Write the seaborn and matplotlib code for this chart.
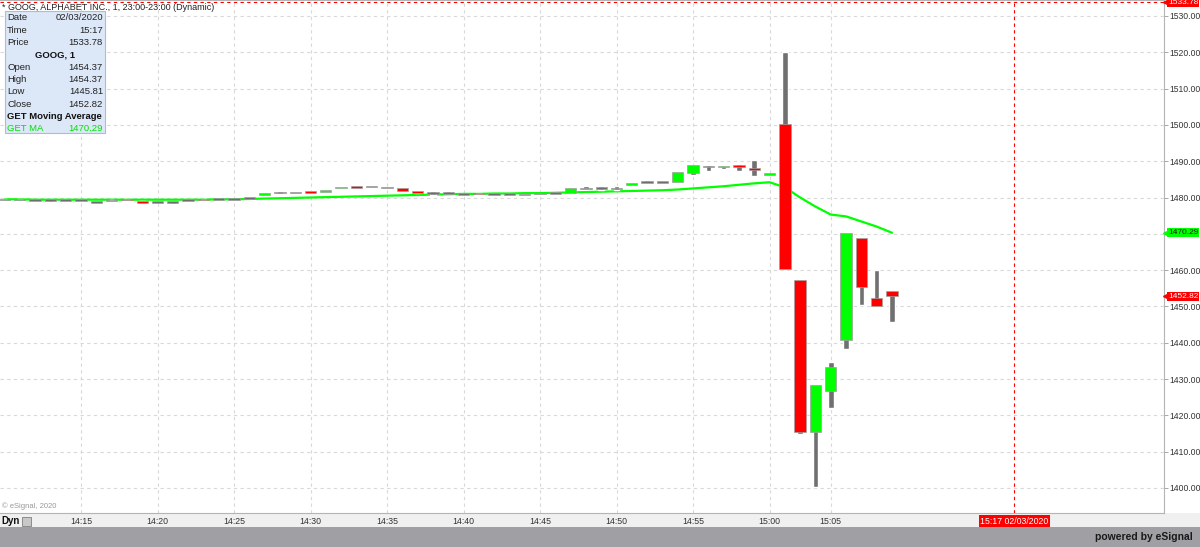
import matplotlib
matplotlib.use('Agg')
import numpy as np
import pandas as pd
import matplotlib.pyplot as plt
import seaborn as sns
from matplotlib.patches import Rectangle
from matplotlib import transforms

# 绘图风格 (字体要放在 set_style 之后)
sns.set_style('white')
plt.rcParams['font.family'] = ['Liberation Sans', 'DejaVu Sans']

# ---- 数据: GOOG 1分钟K线 ----
times = ['14:10', '14:11', '14:12', '14:13', '14:14', '14:15', '14:16', '14:17', '14:18', '14:19',
         '14:20', '14:21', '14:22', '14:23', '14:24', '14:25', '14:26', '14:27', '14:28', '14:29',
         '14:30', '14:31', '14:32', '14:33', '14:34', '14:35', '14:36', '14:37', '14:38', '14:39',
         '14:40', '14:41', '14:42', '14:43', '14:44', '14:45', '14:46', '14:47', '14:48', '14:49',
         '14:50', '14:51', '14:52', '14:53', '14:54', '14:55', '14:56', '14:57', '14:58', '14:59',
         '15:00', '15:01', '15:02', '15:04', '15:05', '15:06', '15:07', '15:08', '15:09']
opens = [1479.5, 1479.5, 1479.3, 1479.3, 1479.3, 1479.3, 1478.8, 1479.2, 1479.7, 1479.0,
         1478.8, 1478.8, 1479.3, 1479.7, 1479.6, 1479.6, 1479.8, 1480.8, 1481.4, 1481.4,
         1481.8, 1481.4, 1482.5, 1483.2, 1483.0, 1482.8, 1482.5, 1481.6, 1481.2, 1481.2,
         1481.0, 1481.2, 1481.0, 1481.0, 1480.8, 1481.1, 1481.3, 1481.3, 1482.5, 1482.6,
         1482.5, 1483.4, 1484.3, 1484.2, 1484.2, 1486.8, 1488.5, 1488.3, 1488.9, 1488.2,
         1486.4, 1500.2, 1457.4, 1415.5, 1426.7, 1440.7, 1468.9, 1452.4, 1454.37]
highs = [1479.5, 1479.5, 1479.3, 1479.3, 1479.3, 1479.3, 1478.8, 1479.2, 1479.7, 1479.0,
         1478.8, 1478.8, 1479.3, 1479.7, 1479.6, 1479.6, 1479.8, 1481.2, 1481.8, 1481.4,
         1481.8, 1482.2, 1483.0, 1483.2, 1483.0, 1482.8, 1482.5, 1481.6, 1481.9, 1481.9,
         1481.0, 1481.2, 1481.0, 1481.0, 1480.8, 1481.1, 1481.3, 1482.5, 1483.2, 1483.2,
         1483.2, 1484.0, 1484.9, 1484.2, 1487.1, 1489.0, 1489.0, 1488.8, 1489.1, 1490.3,
         1486.6, 1520.2, 1457.4, 1428.3, 1434.7, 1470.2, 1468.9, 1460.0, 1454.37]
lows = [1479.5, 1479.5, 1478.9, 1478.8, 1479.3, 1479.3, 1478.6, 1479.2, 1479.3, 1478.6,
        1478.5, 1478.3, 1479.3, 1479.2, 1479.6, 1479.6, 1479.8, 1480.8, 1481.1, 1481.4,
        1481.3, 1481.4, 1482.5, 1482.5, 1483.0, 1482.8, 1481.9, 1481.3, 1480.8, 1481.2,
        1481.0, 1481.0, 1481.0, 1481.0, 1480.5, 1481.1, 1481.3, 1481.3, 1482.3, 1482.0,
        1482.0, 1483.4, 1484.3, 1484.0, 1484.2, 1486.2, 1487.4, 1487.8, 1487.4, 1485.9,
        1486.4, 1460.4, 1414.8, 1400.3, 1421.9, 1438.2, 1450.4, 1450.2, 1445.81]
closes = [1479.5, 1479.5, 1479.3, 1479.3, 1479.3, 1479.3, 1478.8, 1479.2, 1479.3, 1478.6,
          1478.8, 1478.8, 1479.3, 1479.2, 1479.6, 1479.6, 1479.8, 1481.2, 1481.4, 1481.4,
          1481.3, 1482.2, 1483.0, 1482.7, 1483.0, 1482.8, 1481.9, 1481.3, 1481.2, 1481.2,
          1481.0, 1481.0, 1481.0, 1481.0, 1480.8, 1481.1, 1481.3, 1482.5, 1482.5, 1482.6,
          1482.5, 1484.0, 1484.3, 1484.2, 1487.1, 1489.0, 1488.5, 1488.8, 1488.5, 1487.6,
          1486.6, 1460.4, 1415.3, 1428.3, 1433.4, 1470.2, 1455.4, 1450.2, 1452.82]
# GET 移动平均线
ma = [1479.5, 1479.5, 1479.4, 1479.4, 1479.4, 1479.4, 1479.4, 1479.4, 1479.4, 1479.4,
      1479.4, 1479.4, 1479.4, 1479.4, 1479.5, 1479.5, 1479.6, 1479.7, 1479.8, 1479.9,
      1480.0, 1480.1, 1480.2, 1480.3, 1480.4, 1480.5, 1480.6, 1480.7, 1480.8, 1480.9,
      1481.0, 1481.0, 1481.1, 1481.1, 1481.2, 1481.2, 1481.3, 1481.4, 1481.5, 1481.6,
      1481.7, 1481.8, 1481.9, 1482.0, 1482.2, 1482.5, 1482.8, 1483.1, 1483.5, 1483.9,
      1484.2, 1482.8, 1480.0, 1477.5, 1475.3, 1474.8, 1473.4, 1472.0, 1470.29]

time_ticks = ['14:15', '14:20', '14:25', '14:30', '14:35', '14:40', '14:45', '14:50', '14:55', '15:00', '15:05']
price_ticks = [1400, 1410, 1420, 1430, 1440, 1450, 1460, 1470, 1480, 1490, 1500, 1510, 1520, 1530]
cursor_price = 1533.78
cursor_bar = 66          # 15:17 (最后一根K线之后 8 分钟)
last_close = 1452.82
last_ma = 1470.29

info_labels = ['Date', 'Time', 'Price', 'GOOG, 1', 'Open', 'High', 'Low', 'Close', 'GET Moving Average', 'GET MA']
info_values = ['02/03/2020', '15:17', '1533.78', '', '1454.37', '1454.37', '1445.81', '1452.82', '', '1470.29']

df = pd.DataFrame({'time': times, 'open': opens, 'high': highs, 'low': lows, 'close': closes, 'ma': ma})
df['pos'] = np.arange(len(df))

# ---- 画布 ----
W, H = 1200, 547
fig = plt.figure(figsize=(W / 100, H / 100), dpi=100, facecolor='white')
fx = lambda px: px / W
fy = lambda py: 1 - py / H

ax = fig.add_axes([0, fy(513), fx(1164), 513 / H])
ax.set_facecolor('white')
ax.set_xlim(-0.294, 75.78)
ax.set_ylim(1393.1, 1534.4)

# 网格与坐标轴
tick_pos = [times.index(t) for t in time_ticks]
ax.set_xticks(tick_pos)
ax.set_xticklabels(time_ticks)
ax.set_yticks(price_ticks)
# 1470 的刻度文字被均线价格标签盖住, 这里留空
ax.set_yticklabels(['' if v == 1470 else f'{v:.2f}' for v in price_ticks])
ax.grid(True, color='#d9d9d9', linestyle=(0, (3, 3)), linewidth=0.8, zorder=0)
ax.set_axisbelow(True)
ax.yaxis.tick_right()
ax.tick_params(axis='x', length=0, pad=3, labelsize=6.3, labelcolor='#333333')
ax.tick_params(axis='y', length=3, width=0.6, pad=1, labelsize=6.2, color='#999999', labelcolor='#333333')
for s in ax.spines.values():
    s.set_color('#b4b4b4')
    s.set_linewidth(0.8)
ax.spines['left'].set_visible(False)

# 移动平均线 (在K线后面)
sns.lineplot(x='pos', y='ma', data=df, color='#00ff00', linewidth=1.6, ax=ax, zorder=2)
ax.set_xlabel('')
ax.set_ylabel('')

# K线
up = df['close'] > df['open']
down = df['close'] < df['open']
body_col = np.where(up, '#00ff00', np.where(down, '#ff0000', '#6e6e6e'))
body_h = (df['close'] - df['open']).abs()
flat = body_h < 0.45
body_bot = np.minimum(df['open'], df['close']) - np.where(flat, (0.45 - body_h) / 2, 0)
body_h = np.maximum(body_h, 0.45)
ax.bar(df['pos'], df['high'] - df['low'], bottom=df['low'], width=0.36, color='#707070', zorder=3)
ax.bar(df['pos'], body_h, bottom=body_bot, width=0.74, color=body_col,
       edgecolor='#a0a0a0', linewidth=0.5, zorder=4)

# 光标线
ax.axhline(cursor_price, color='#ff0000', linestyle=(0, (3, 3)), linewidth=0.8, zorder=5)
ax.axvline(cursor_bar, color='#ff0000', linestyle=(0, (3, 3)), linewidth=0.8, zorder=5)

# 右侧价格标签
ytr = transforms.blended_transform_factory(ax.transAxes, ax.transData)
def price_tag(v, fc, tc):
    ax.plot([1.0 + 2 / 1164], [v], marker='<', markersize=4.5, color=fc, transform=ytr, clip_on=False, zorder=10)
    ax.text(1.0 + 4 / 1164, v, f'{v:.2f}', transform=ytr, ha='left', va='center', fontsize=6.0, color=tc,
            bbox=dict(boxstyle='square,pad=0.1', fc=fc, ec='none'), clip_on=False, zorder=11)

price_tag(cursor_price, '#ff0000', 'white')
price_tag(last_ma, '#00ff00', '#1a1a1a')
price_tag(last_close, '#ff0000', 'white')

# 底部时间标签
xtr = transforms.blended_transform_factory(ax.transData, ax.transAxes)
ax.text(cursor_bar, -8 / 513, '15:17 02/03/2020', transform=xtr, ha='center', va='center', fontsize=6.3,
        color='white', bbox=dict(boxstyle='square,pad=0.15', fc='#ff0000', ec='none'), clip_on=False, zorder=11)

# 底部条
fig.add_artist(Rectangle((0, fy(527)), 1, 14 / H, transform=fig.transFigure, fc='#f0f0f0', ec='none', zorder=-1))
fig.add_artist(Rectangle((0, 0), 1, 20 / H, transform=fig.transFigure, fc='#a0a0a4', ec='none', zorder=1))
fig.text(fx(1193), fy(537), 'powered by eSignal', ha='right', va='center', fontsize=7.5,
         fontweight='bold', color='#1a1a1a')
fig.text(fx(1), fy(521), 'Dyn', ha='left', va='center', fontsize=7, fontweight='bold', color='#111111')
fig.add_artist(Rectangle((fx(22), fy(526)), fx(9), 9 / H, transform=fig.transFigure,
                         fc='#c8c8c8', ec='#808080', lw=0.6, zorder=2))
fig.text(fx(2), fy(506), '© eSignal, 2020', ha='left', va='center', fontsize=5.5, color='#999999')

# 标题与信息框
fig.text(fx(2), fy(7), '* GOOG, ALPHABET INC., 1, 23:00-23:00 (Dynamic)', ha='left', va='center',
         fontsize=6.5, color='#222222')
fig.add_artist(Rectangle((fx(5), fy(133)), fx(100), 122 / H, transform=fig.transFigure,
                         fc='#dce8f7', ec='#a9bdd9', lw=0.8, zorder=2))
row_y = 18
for lab, val in zip(info_labels, info_values):
    if lab == 'GOOG, 1':
        fig.text(fx(55), fy(row_y), lab, ha='center', va='center', fontsize=6.8, fontweight='bold', color='#111111')
    elif lab == 'GET Moving Average':
        fig.text(fx(7), fy(row_y), lab, ha='left', va='center', fontsize=6.8, fontweight='bold', color='#111111')
    else:
        c = '#00e000' if lab == 'GET MA' else '#222222'
        fig.text(fx(7), fy(row_y), lab, ha='left', va='center', fontsize=6.8, color=c)
        fig.text(fx(103), fy(row_y), val, ha='right', va='center', fontsize=6.8, color=c)
    row_y += 12.3

fig.savefig('out.png', dpi=100)
